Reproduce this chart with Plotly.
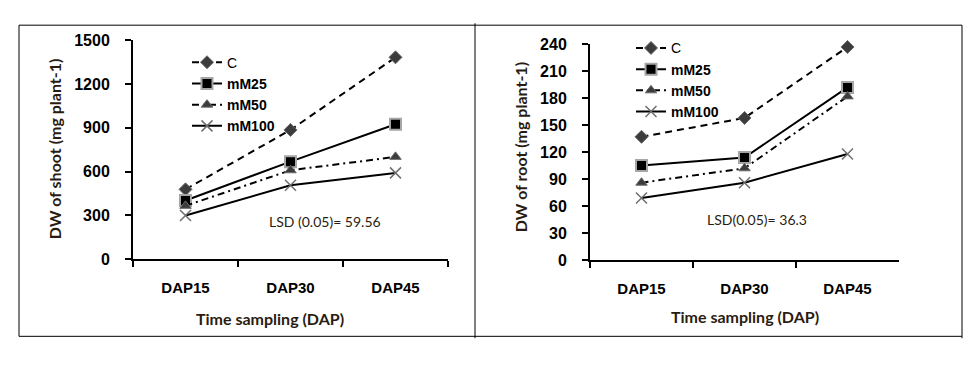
import plotly.graph_objects as go

W, H = 976, 373
categories = ["DAP15", "DAP30", "DAP45"]
series_names = ["C", "mM25", "mM50", "mM100"]

shoot_C = [478, 886, 1384]
shoot_mM25 = [402, 668, 925]
shoot_mM50 = [365, 609, 701]
shoot_mM100 = [299, 506, 591]

root_C = [137, 158, 237]
root_mM25 = [105, 114, 192]
root_mM50 = [86, 102, 182]
root_mM100 = [69, 86, 118]

shoot_ticks = [0, 300, 600, 900, 1200, 1500]
root_ticks = [0, 30, 60, 90, 120, 150, 180, 210, 240]

TXT = "#2a1c10"

styles = {
    "C": dict(line=dict(color="black", width=2, dash="7px,5px"),
              marker=dict(symbol="diamond", size=10, color="#3c3c3c",
                          line=dict(color="#6a6a6a", width=1))),
    "mM25": dict(line=dict(color="black", width=2, dash="solid"),
                 marker=dict(symbol="square", size=11, color="black",
                             line=dict(color="#a6a6a6", width=2))),
    "mM50": dict(line=dict(color="black", width=2, dash="7px,4px,2px,4px"),
                 marker=dict(symbol="triangle-up", size=10, color="#3c3c3c",
                             line=dict(color="#6a6a6a", width=1))),
    "mM100": dict(line=dict(color="black", width=2, dash="solid"),
                  marker=dict(symbol="x-thin-open", size=11, color="#6e6e6e",
                              line=dict(color="#6e6e6e", width=1.5))),
}
legend_labels = {"C": "<span style='font-weight:normal'>C</span>",
                 "mM25": "mM25", "mM50": "mM50", "mM100": "mM100"}

fig = go.Figure()
shoot = [shoot_C, shoot_mM25, shoot_mM50, shoot_mM100]
root = [root_C, root_mM25, root_mM50, root_mM100]
for name, vals in zip(series_names, shoot):
    st = styles[name]
    fig.add_trace(go.Scatter(x=categories, y=vals, name=legend_labels[name],
                             mode="lines+markers", line=st["line"], marker=st["marker"],
                             cliponaxis=False,
                             xaxis="x", yaxis="y", legend="legend"))
for name, vals in zip(series_names, root):
    st = styles[name]
    fig.add_trace(go.Scatter(x=categories, y=vals, name=legend_labels[name],
                             mode="lines+markers", line=st["line"], marker=st["marker"],
                             cliponaxis=False,
                             xaxis="x2", yaxis="y2", legend="legend2"))

def px(x):
    return x / W

def py(y):
    return 1 - y / H

xcommon = dict(type="category", range=[-0.5, 2.5], showline=True, linecolor="black",
               linewidth=2, ticks="outside", tickson="boundaries", ticklen=6,
               tickwidth=2, tickcolor="black", showgrid=False, zeroline=False,
               tickfont=dict(family="Liberation Sans", size=15, color="black",
                             weight="bold"),
               ticklabelstandoff=14)
ycommon = dict(showline=True, linecolor="black", linewidth=2, ticks="outside",
               ticklen=6, tickwidth=2, tickcolor="black", showgrid=False,
               zeroline=False,
               tickfont=dict(family="Liberation Sans", size=16, color="black",
                             weight="bold"),
               ticklabelstandoff=12)

legfont = dict(family="Liberation Sans", size=14, color="black", weight="bold")

fig.update_layout(
    width=W, height=H, margin=dict(l=0, r=0, t=0, b=0),
    plot_bgcolor="white", paper_bgcolor="white",
    xaxis=dict(domain=[px(133), px(448)], anchor="y", **xcommon),
    yaxis=dict(domain=[py(263), py(34)], anchor="x", range=[0, 1500],
               tickvals=shoot_ticks, **ycommon),
    xaxis2=dict(domain=[px(590), px(899)], anchor="y2", **xcommon),
    yaxis2=dict(domain=[py(264), py(38)], anchor="x2", range=[0, 240],
                tickvals=root_ticks, **ycommon),
    legend=dict(x=px(187), y=py(40.5), xanchor="left", yanchor="top",
                bgcolor="rgba(0,0,0,0)", font=legfont, tracegroupgap=0,
                itemwidth=30),
    legend2=dict(x=px(631), y=py(25.5), xanchor="left", yanchor="top",
                 bgcolor="rgba(0,0,0,0)", font=legfont, tracegroupgap=0,
                 itemwidth=30),
    showlegend=True,
)

# frames
frame = dict(type="line", xref="paper", yref="paper",
             line=dict(color="black", width=1))
for (x0, y0, x1, y1) in [(19, 18, 962, 18), (19, 344, 962, 344),
                         (19, 18, 19, 344), (475, 16, 475, 346),
                         (962, 18, 962, 346)]:
    fig.add_shape(x0=px(x0), y0=py(y0), x1=px(x1), y1=py(y1), **frame)

titlefont = dict(family="Lato", size=16, color=TXT, weight="bold")
ann = [
    dict(text="DW of shoot (mg plant-1)", x=px(54), y=py(148), textangle=-90),
    dict(text="Time sampling (DAP)", x=px(270), y=py(325), textangle=0),
    dict(text="DW of root (mg plant-1)", x=px(520), y=py(146), textangle=-90),
    dict(text="Time sampling (DAP)", x=px(745), y=py(323), textangle=0),
]
for a in ann:
    fig.add_annotation(xref="paper", yref="paper", showarrow=False,
                       xanchor="center", yanchor="middle", font=titlefont, **a)

lsdfont = dict(family="Lato", size=14, color=TXT)
fig.add_annotation(text="LSD (0.05)= 59.56", xref="paper", yref="paper",
                   x=px(325), y=py(224), showarrow=False, font=lsdfont,
                   xanchor="center", yanchor="middle")
fig.add_annotation(text="LSD(0.05)= 36.3", xref="paper", yref="paper",
                   x=px(757), y=py(222), showarrow=False, font=lsdfont,
                   xanchor="center", yanchor="middle")

fig.write_html("out.html", config={"displayModeBar": False},
               post_script="document.body.style.margin='0';"
                           "document.body.style.padding='0';"
                           "document.body.style.overflow='hidden';")
